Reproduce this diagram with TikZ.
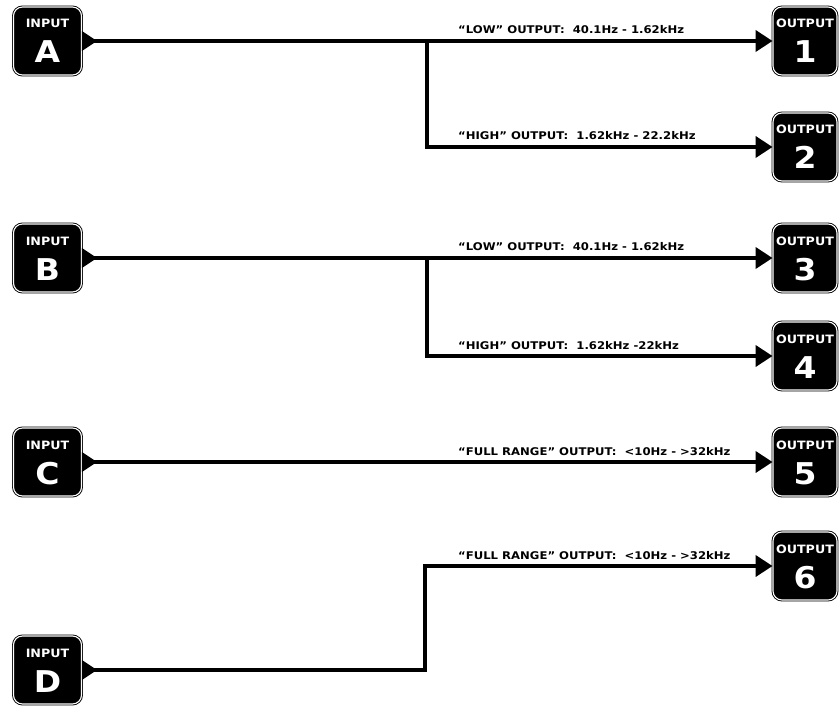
\documentclass[tikz,border=0pt]{standalone}
\usepackage{fontspec}
\newfontfamily\dfont{DejaVu Sans}[FakeStretch=1.1]
\usetikzlibrary{arrows.meta}
\tikzset{
  iobox/.style={rectangle, rounded corners=9pt, fill=black, draw=black, double=white,
    double distance=1.1pt, line width=0.9pt, minimum height=68pt, inner sep=0pt},
  smalltxt/.style={text=white, font=\dfont\bfseries\fontsize{11.5}{13}\selectfont, inner sep=0pt, anchor=base},
  bigtxt/.style={text=white, font=\dfont\bfseries\fontsize{30}{32}\selectfont, inner sep=0pt, anchor=base},
  lbl/.style={font=\dfont\bfseries\fontsize{10.6}{12}\selectfont, inner sep=0pt, anchor=base west},
  wire/.style={line width=3.8pt},
  arr/.style={wire, -{Triangle[length=17pt,width=21pt]}},
}
\newcommand\inbox[4]{% name, x, y, letter
  \node[iobox, minimum width=68pt] (#1) at (#2,#3) {};
  \node[smalltxt] (#1-t) at (#2,#3-13) {INPUT};
  \node[bigtxt] (#1-l) at (#2,#3+22) {#4};
  \fill (#1.east) ++(0,-10) -- ++(15,10) -- ++(-15,10) -- cycle;
}
\newcommand\outbox[4]{% name, x, y, number
  \node[iobox, minimum width=64pt] (#1) at (#2,#3) {};
  \node[smalltxt] (#1-t) at (#2,#3-13) {OUTPUT};
  \node[bigtxt] (#1-l) at (#2,#3+22) {#4};
}
\begin{document}
\begin{tikzpicture}[x=1pt,y=-1pt]
\useasboundingbox (0,0) rectangle (839,706);
% inputs
\inbox{a}{47.5}{41}{A}
\inbox{b}{47.5}{258}{B}
\inbox{c}{47.5}{462}{C}
\inbox{d}{47.5}{670}{D}
% outputs
\outbox{o1}{805}{41}{1}
\outbox{o2}{805}{147}{2}
\outbox{o3}{805}{258}{3}
\outbox{o4}{805}{356}{4}
\outbox{o5}{805}{462}{5}
\outbox{o6}{805}{566}{6}
% junctions
\coordinate (ja) at (427,41);
\coordinate (jb) at (427,258);
\coordinate (jd) at (425,566);
% wires
\draw[arr] (a.east) -- (o1.west);
\draw[arr] (ja) |- (o2.west);
\draw[arr] (b.east) -- (o3.west);
\draw[arr] (jb) |- (o4.west);
\draw[arr] (c.east) -- (o5.west);
\draw[arr] (d.east) -| (jd) -- (o6.west);
% labels
\node[lbl] (l1) at (458,34) {“LOW” OUTPUT:\ \ 40.1Hz - 1.62kHz};
\node[lbl] (l2) at (458,140) {“HIGH” OUTPUT:\ \ 1.62kHz - 22.2kHz};
\node[lbl] (l3) at (458,251) {“LOW” OUTPUT:\ \ 40.1Hz - 1.62kHz};
\node[lbl] (l4) at (458,349) {“HIGH” OUTPUT:\ \ 1.62kHz -22kHz};
\node[lbl] (l5) at (458,455) {“FULL RANGE” OUTPUT:\ \ <10Hz - >32kHz};
\node[lbl] (l6) at (458,559) {“FULL RANGE” OUTPUT:\ \ <10Hz - >32kHz};
\end{tikzpicture}
\end{document}
